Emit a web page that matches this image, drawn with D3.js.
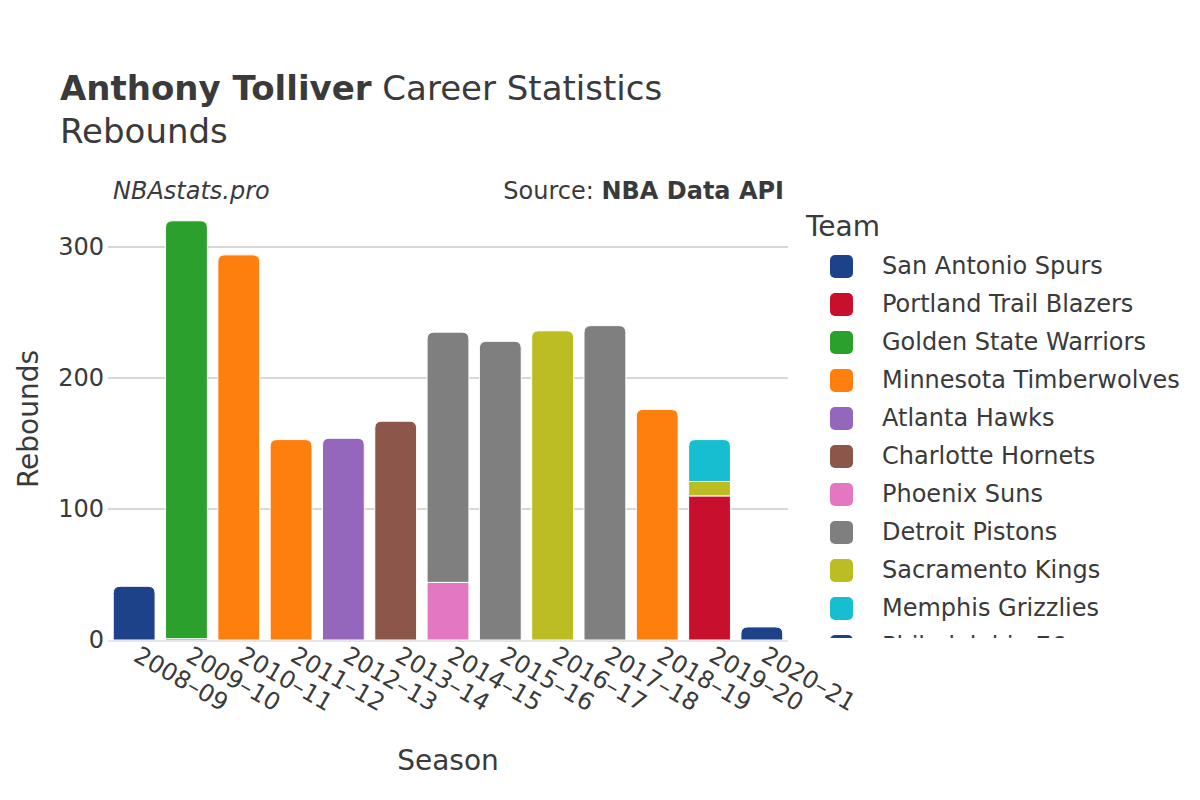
<!DOCTYPE html>
<html><head><meta charset="utf-8">
<script src="https://cdn.jsdelivr.net/npm/d3@7"></script>
<style>body{margin:0;background:#fff}svg{font-family:"DejaVu Sans",sans-serif}</style>
</head><body><svg id="c" width="1200" height="800"></svg>
<script>
const seasons = ["2008–09","2009–10","2010–11","2011–12","2012–13","2013–14","2014–15","2015–16","2016–17","2017–18","2018–19","2019–20","2020–21"];
const teams = ["San Antonio Spurs","Portland Trail Blazers","Golden State Warriors","Minnesota Timberwolves","Atlanta Hawks","Charlotte Hornets","Phoenix Suns","Detroit Pistons","Sacramento Kings","Memphis Grizzlies","Philadelphia 76ers"];
const teamColors = ["#1d428a","#c8102e","#2ca02c","#ff7f0e","#9467bd","#8c564b","#e377c2","#7f7f7f","#bcbd22","#17becf","#1d428a"];
// rows: [season, team, rebounds] in stacking order
const records = [
  ["2008–09","San Antonio Spurs",41],
  ["2009–10","Portland Trail Blazers",1],
  ["2009–10","Golden State Warriors",319],
  ["2010–11","Minnesota Timberwolves",294],
  ["2011–12","Minnesota Timberwolves",153],
  ["2012–13","Atlanta Hawks",154],
  ["2013–14","Charlotte Hornets",167],
  ["2014–15","Phoenix Suns",44],
  ["2014–15","Detroit Pistons",191],
  ["2015–16","Detroit Pistons",228],
  ["2016–17","Sacramento Kings",236],
  ["2017–18","Detroit Pistons",240],
  ["2018–19","Minnesota Timberwolves",176],
  ["2019–20","Portland Trail Blazers",110],
  ["2019–20","Sacramento Kings",11],
  ["2019–20","Memphis Grizzlies",32],
  ["2020–21","Philadelphia 76ers",10]
];
const yTicks = [0,100,200,300];

const svg = d3.select("#c");
const L=108,R=788,B=640;
const x = d3.scaleBand().domain(seasons).range([L,R]).paddingInner(0.2).paddingOuter(0.1);
const y = d3.scaleLinear().domain([0,328]).range([B,B-328*1.31]);
const color = d3.scaleOrdinal().domain(teams).range(teamColors);
const txt="#3a3a3a";

// grid
svg.append("g").selectAll("line").data(yTicks.filter(d=>d>0)).join("line")
  .attr("x1",L).attr("x2",R).attr("y1",d=>y(d)).attr("y2",d=>y(d))
  .attr("stroke","#b0b0b0").attr("stroke-width",1);

// y axis
const ya = svg.append("g").attr("transform",`translate(${L},0)`)
  .call(d3.axisLeft(y).tickValues(yTicks).tickSize(0).tickPadding(4));
ya.select(".domain").remove();
ya.selectAll("text").attr("font-size",24).attr("fill",txt).attr("font-family","DejaVu Sans");

// stacked bars
const cum = {};
const segs = records.map(([s,t,v])=>{const b=cum[s]||0;cum[s]=b+v;return {s,t,y0:b,y1:b+v};});
const topOf = {};
segs.forEach((d,i)=>topOf[d.s]=i);
function barPath(d,i){
  const x0=x(d.s), w=x.bandwidth(), yt=y(d.y1), yb=y(d.y0);
  const h=yb-yt;
  const r = (topOf[d.s]===i)?Math.min(7,h,w/2):0;
  return `M${x0},${yb}V${yt+r}Q${x0},${yt} ${x0+r},${yt}H${x0+w-r}Q${x0+w},${yt} ${x0+w},${yt+r}V${yb}Z`;
}
svg.append("g").selectAll("path").data(segs).join("path")
  .attr("d",barPath).attr("fill",d=>color(d.t))
  .attr("stroke","#fff").attr("stroke-width",1);

// zero line
svg.append("line").attr("x1",L).attr("x2",R).attr("y1",B+1).attr("y2",B+1)
  .attr("stroke","#e6e6e6").attr("stroke-width",2);

// x axis
const xa = svg.append("g").attr("transform",`translate(0,${B+2})`)
  .call(d3.axisBottom(x).tickSize(0).tickPadding(0));
xa.select(".domain").remove();
xa.selectAll("text").attr("font-size",24).attr("fill",txt).attr("font-family","DejaVu Sans")
  .attr("text-anchor","start").attr("dy",0)
  .attr("transform","translate(-2,18) rotate(30)");

// titles
const t1 = svg.append("text").attr("x",60).attr("y",100).attr("font-size",34).attr("fill",txt);
t1.append("tspan").attr("font-weight","bold").text("Anthony Tolliver");
t1.append("tspan").text(" Career Statistics");
svg.append("text").attr("x",60).attr("y",143).attr("font-size",34).attr("fill",txt).text("Rebounds");
svg.append("text").attr("x",113).attr("y",199).attr("font-size",24).attr("font-style","italic").attr("fill",txt).text("NBAstats.pro");
const src = svg.append("text").attr("x",784).attr("y",199).attr("font-size",24).attr("text-anchor","end").attr("fill",txt);
src.append("tspan").text("Source: ");
src.append("tspan").attr("font-weight","bold").text("NBA Data API");
svg.append("text").attr("x",448).attr("y",770).attr("font-size",28).attr("text-anchor","middle").attr("fill",txt).text("Season");
svg.append("text").attr("transform","translate(28,419) rotate(-90)").attr("font-size",28).attr("text-anchor","middle").attr("dy","0.35em").attr("fill",txt).text("Rebounds");

// legend
svg.append("defs").append("clipPath").attr("id","lc").append("rect").attr("x",800).attr("y",240).attr("width",400).attr("height",398);
svg.append("text").attr("x",806).attr("y",236).attr("font-size",28).attr("fill",txt).text("Team");
const lg = svg.append("g").attr("clip-path","url(#lc)");
const items = lg.selectAll("g").data(teams).join("g").attr("transform",(d,i)=>`translate(0,${266+i*38})`);
items.append("rect").attr("x",830).attr("y",-11).attr("width",23).attr("height",23).attr("rx",5).attr("fill",d=>color(d));
items.append("text").attr("x",882).attr("y",0).attr("dy","0.35em").attr("font-size",24).attr("fill",txt).text(d=>d);
</script></body></html>
